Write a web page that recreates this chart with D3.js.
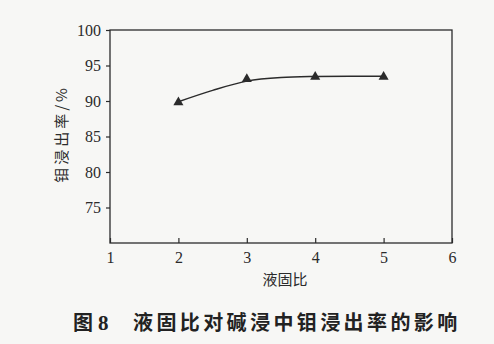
<!DOCTYPE html>
<html><head><meta charset="utf-8">
<script src="https://cdn.jsdelivr.net/npm/d3@7"></script>
<style>
html,body{margin:0;padding:0;background:#f7f7f5;}
svg{display:block;}
</style></head>
<body>
<script>
const xValues = [2, 3, 4, 5];
const yValues = [89.8, 93.1, 93.4, 93.4];
const fitX = [2, 2.5, 3, 3.5, 4, 4.5, 5];
const fitY = [89.9, 91.5, 92.8, 93.3, 93.45, 93.5, 93.5];
const xTicks = [1, 2, 3, 4, 5, 6];
const yTicks = [75, 80, 85, 90, 95, 100];
const xLabel = "液固比";
const yLabel = "钼浸出率/%";
const captionFig = "图";
const captionNum = "8";
const captionText = "液固比对碱浸中钼浸出率的影响";

const W = 494, H = 344;
const m = {left:110, right:452, top:30, bottom:243};
const svg = d3.select("body").append("svg").attr("width", W).attr("height", H);
const x = d3.scaleLinear().domain([1, 6]).range([m.left, m.right]);
const y = d3.scaleLinear().domain([70, 100]).range([m.bottom, m.top]);
const ink = "#2b2b2b";
const SERIF = "'Liberation Serif', serif";
const CJK = "'Noto Sans CJK SC', sans-serif";

// frame
svg.append("rect").attr("x", m.left).attr("y", m.top)
  .attr("width", m.right - m.left).attr("height", m.bottom - m.top)
  .attr("fill", "none").attr("stroke", ink).attr("stroke-width", 1.3);

// x axis (ticks inward)
const xa = svg.append("g").attr("transform", `translate(0,${m.bottom})`)
  .call(d3.axisBottom(x).tickValues(xTicks).tickSize(-5).tickPadding(9).tickFormat(d3.format("d")));
xa.select(".domain").remove();
xa.selectAll("line").attr("stroke", ink).attr("stroke-width", 1.2);
xa.selectAll("text").style("font-family", SERIF).style("font-size", "16px").attr("fill", ink);

// y axis (ticks outward)
const ya = svg.append("g").attr("transform", `translate(${m.left},0)`)
  .call(d3.axisLeft(y).tickValues(yTicks).tickSize(4).tickPadding(5).tickFormat(d3.format("d")));
ya.select(".domain").remove();
ya.selectAll("line").attr("stroke", ink).attr("stroke-width", 1.2);
ya.selectAll("text").style("font-family", SERIF).style("font-size", "16px").attr("fill", ink);

// fit curve
const line = d3.line().x((d, i) => x(fitX[i])).y(d => y(d)).curve(d3.curveMonotoneX);
svg.append("path").datum(fitY).attr("d", line)
  .attr("fill", "none").attr("stroke", ink).attr("stroke-width", 1.5);

// markers
const tri = d3.symbol().type(d3.symbolTriangle).size(44);
svg.selectAll(".pt").data(yValues).enter().append("path")
  .attr("transform", (d, i) => `translate(${x(xValues[i])},${y(d)})`)
  .attr("d", tri).attr("fill", ink);

// labels
svg.append("text").attr("x", 285).attr("y", 285).attr("text-anchor", "middle")
  .style("font-family", CJK).style("font-size", "15px").attr("fill", ink).text(xLabel);
svg.append("text").attr("transform", "translate(67,134) rotate(-90)").attr("text-anchor", "middle")
  .style("font-family", CJK).style("font-size", "15px").style("letter-spacing", "3px").attr("fill", ink).text(yLabel);

// caption
svg.append("text").attr("x", 73).attr("y", 330)
  .style("font-family", CJK).style("font-size", "20px").style("font-weight", "bold").attr("fill", "#222").text(captionFig);
svg.append("text").attr("x", 98).attr("y", 330)
  .style("font-family", SERIF).style("font-size", "21px").style("font-weight", "bold").attr("fill", "#222").text(captionNum);
svg.append("text").attr("x", 133).attr("y", 330)
  .style("font-family", CJK).style("font-size", "20px").style("font-weight", "bold").style("letter-spacing", "3.4px").attr("fill", "#222").text(captionText);
</script>
</body></html>
